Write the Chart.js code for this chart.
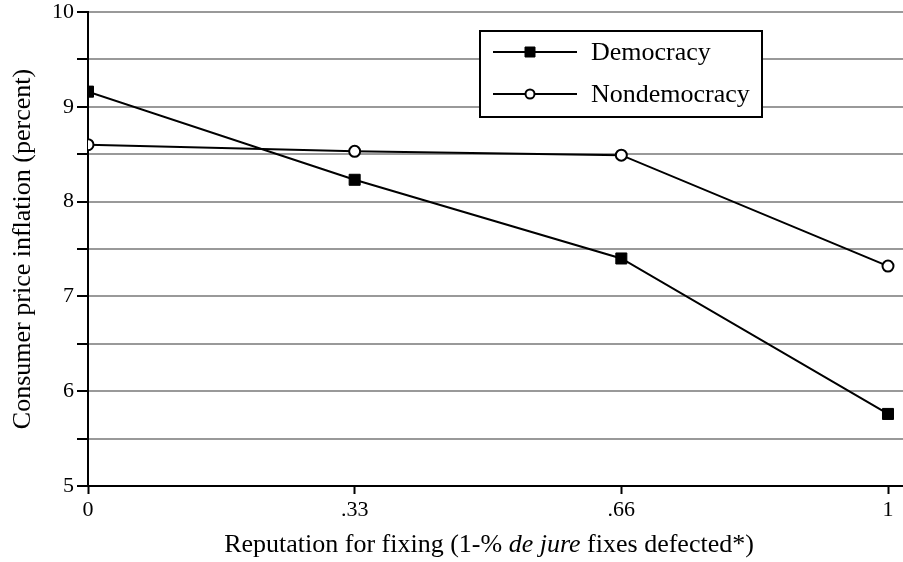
<!DOCTYPE html>
<html>
<head>
<meta charset="utf-8">
<script src="https://cdn.jsdelivr.net/npm/chart.js@4"></script>
<style>
    html, body { margin: 0; padding: 0; background: #fff; overflow: hidden; }
    #wrap { width: 912px; height: 562px; }
</style>
</head>
<body>
<div id="wrap"><canvas id="myChart"></canvas></div>
<script>
// reputation for fixing (x positions) and their tick labels
const reputation = [0, 1 / 3, 2 / 3, 1];
const tickLabels = ['0', '.33', '.66', '1'];

const democracy = [9.16, 8.23, 7.40, 5.76];
const nondemocracy = [8.60, 8.53, 8.49, 7.32];

const FONT = '"Liberation Serif", "DejaVu Serif", serif';

function toPoints(values) {
    return values.map((v, i) => ({ x: reputation[i], y: v }));
}

// x axis title with the italic "de jure" part
const xTitlePlugin = {
    id: 'xTitle',
    afterDraw(chart) {
        const ctx = chart.ctx;
        const parts = [
            { text: 'Reputation for fixing (1-% ', italic: false },
            { text: 'de jure', italic: true },
            { text: ' fixes defected*)', italic: false }
        ];
        ctx.save();
        ctx.fillStyle = '#000';
        ctx.textBaseline = 'middle';
        let total = 0;
        parts.forEach(p => {
            ctx.font = (p.italic ? 'italic ' : '') + '26px ' + FONT;
            p.w = ctx.measureText(p.text).width;
            total += p.w;
        });
        let x = 489 - total / 2;
        parts.forEach(p => {
            ctx.font = (p.italic ? 'italic ' : '') + '26px ' + FONT;
            ctx.fillText(p.text, x, 545);
            x += p.w;
        });
        ctx.restore();
    }
};

// boxed legend, line with marker in the middle
const boxLegendPlugin = {
    id: 'boxLegend',
    afterDraw(chart) {
        const ctx = chart.ctx;
        const left = 480, top = 31, width = 282, height = 86;
        ctx.save();
        ctx.fillStyle = '#fff';
        ctx.fillRect(left, top, width, height);
        ctx.strokeStyle = '#000';
        ctx.lineWidth = 2;
        ctx.strokeRect(left, top, width, height);
        chart.data.datasets.forEach((ds, i) => {
            const y = 52 + i * 42;
            ctx.strokeStyle = '#000';
            ctx.lineWidth = 2;
            ctx.beginPath();
            ctx.moveTo(493, y);
            ctx.lineTo(577, y);
            ctx.stroke();
            ctx.fillStyle = ds.pointBackgroundColor;
            ctx.lineWidth = ds.pointBorderWidth;
            ctx.beginPath();
            if (ds.pointStyle === 'rect') {
                ctx.rect(530 - 5, y - 5, 10, 10);
            } else {
                ctx.arc(530, y, 4.5, 0, Math.PI * 2);
            }
            ctx.fill();
            ctx.stroke();
            ctx.fillStyle = '#000';
            ctx.font = '26px ' + FONT;
            ctx.textBaseline = 'middle';
            ctx.fillText(ds.label, 591, y + 1);
        });
        ctx.restore();
    }
};

const ctx = document.getElementById('myChart').getContext('2d');
new Chart(ctx, {
    type: 'line',
    data: {
        datasets: [{
            label: 'Democracy',
            data: toPoints(democracy),
            borderColor: '#000',
            borderWidth: 2,
            pointStyle: 'rect',
            pointRadius: 7.8,
            pointBackgroundColor: '#000',
            pointBorderColor: '#000',
            pointBorderWidth: 1
        }, {
            label: 'Nondemocracy',
            data: toPoints(nondemocracy),
            borderColor: '#000',
            borderWidth: 2,
            pointStyle: 'circle',
            pointRadius: 5.5,
            pointBackgroundColor: '#fff',
            pointBorderColor: '#000',
            pointBorderWidth: 2
        }]
    },
    options: {
        responsive: true,
        maintainAspectRatio: false,
        animation: false,
        layout: { padding: { top: 12, right: 0, bottom: 0, left: 0 } },
        plugins: {
            legend: { display: false },
            tooltip: { enabled: false }
        },
        scales: {
            x: {
                type: 'linear',
                min: 0,
                max: 1.019,
                afterBuildTicks(axis) {
                    axis.ticks = reputation.map(v => ({ value: v }));
                },
                afterFit(axis) {
                    axis.height = 76;
                },
                ticks: {
                    callback: (v, i) => tickLabels[i],
                    color: '#000',
                    font: { family: FONT, size: 22 },
                    padding: 3,
                    maxRotation: 0
                },
                grid: {
                    drawOnChartArea: false,
                    tickLength: 8,
                    tickColor: '#000',
                    tickWidth: 2
                },
                border: { color: '#000', width: 2 }
            },
            y: {
                min: 5,
                max: 10,
                afterFit(axis) {
                    axis.width = 88;
                    axis.paddingTop = 0;
                    axis.paddingBottom = 0;
                },
                ticks: {
                    stepSize: 0.5,
                    callback: v => Number.isInteger(v) ? v : '',
                    color: '#000',
                    font: { family: FONT, size: 22 },
                    padding: 3
                },
                grid: {
                    color: '#999',
                    lineWidth: 2,
                    tickLength: 11,
                    tickColor: '#000',
                    tickWidth: 2
                },
                border: { color: '#000', width: 2 },
                title: {
                    display: true,
                    text: 'Consumer price inflation (percent)',
                    color: '#000',
                    font: { family: FONT, size: 26 },
                    padding: { top: 8, bottom: 0 }
                }
            }
        }
    },
    plugins: [xTitlePlugin, boxLegendPlugin]
});
</script>
</body>
</html>
